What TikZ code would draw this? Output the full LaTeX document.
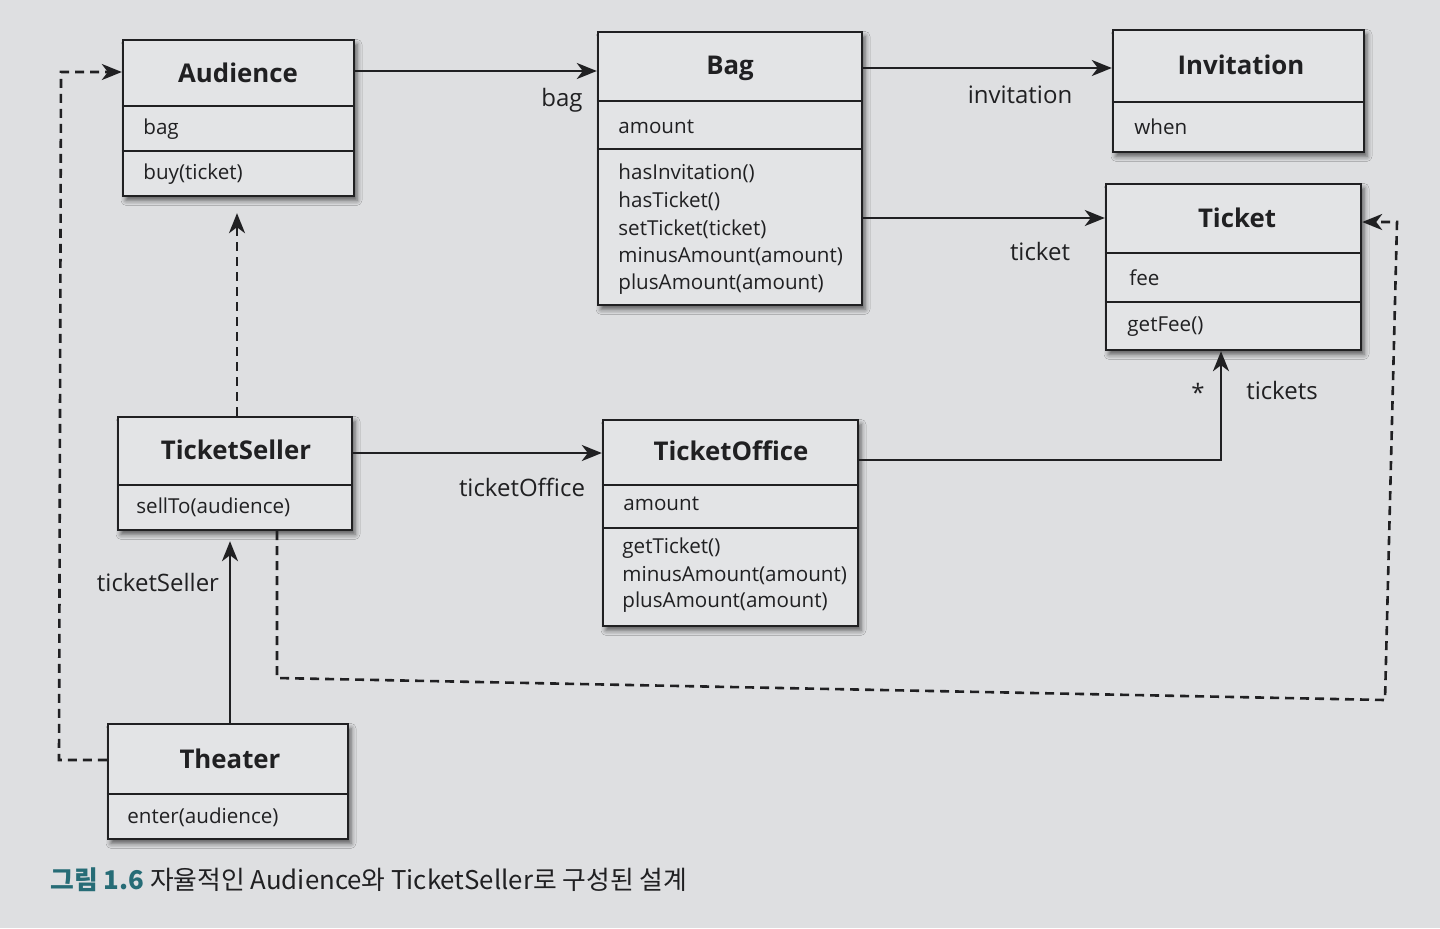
\documentclass[tikz,border=0pt]{standalone}
\usepackage{fontspec}
\setmainfont{Open Sans}
\newfontfamily\krfont{Noto Sans CJK KR}
\usetikzlibrary{arrows.meta, fit, shadows.blur}
\definecolor{bg}{RGB}{222,223,225}
\definecolor{boxfill}{RGB}{227,228,230}
\definecolor{ink}{RGB}{32,32,34}
\definecolor{capteal}{RGB}{38,108,118}
\tikzset{
  cls/.style={draw=ink, line width=1.2pt, fill=boxfill, inner sep=0pt,
    blur shadow={shadow xshift=1.5pt, shadow yshift=-2.2pt, shadow blur radius=2.5pt, shadow opacity=60}},
  sepline/.style={draw=ink, line width=1.2pt},
  hd/.style={font=\fontsize{12.9}{16}\selectfont\bfseries, text=ink, inner sep=0pt},
  txt/.style={font=\fontsize{10.3}{14}\selectfont, text=ink, anchor=west, inner sep=0pt},
  lbl/.style={font=\fontsize{12}{14}\selectfont, text=ink, inner sep=0pt},
  arr/.style={draw=ink, line width=1.3pt, -{Stealth[length=10pt,width=8pt,inset=3pt]}},
  darr/.style={arr, dash pattern=on 4.5pt off 3pt},
}
\begin{document}
\begin{tikzpicture}[x=0.5pt, y=-0.5pt]
\fill[bg] (0,0) rectangle (1440,928);
\useasboundingbox (0,0) rectangle (1440,928);

% ---------- Audience
\node[cls, fit={(123,40) (354,196)}] (aud) {};
\draw[sepline] (aud.west |- 0,106) -- (aud.east |- 0,106);
\draw[sepline] (aud.west |- 0,151) -- (aud.east |- 0,151);
\node[hd] (audh) at (238,73) {Audience};
\node[txt] (auda) at (143,129) {bag};
\node[txt] (audm) at (143,174) {buy(ticket)};

% ---------- Bag
\node[cls, fit={(598,32) (862,305)}] (bag) {};
\draw[sepline] (bag.west |- 0,101) -- (bag.east |- 0,101);
\draw[sepline] (bag.west |- 0,149) -- (bag.east |- 0,149);
\node[hd] (bagh) at (730,68) {Bag};
\node[txt] (baga) at (618,127) {amount};
\node[txt] (bagm1) at (618,173) {hasInvitation()};
\node[txt] (bagm2) at (618,201) {hasTicket()};
\node[txt] (bagm3) at (618,229) {setTicket(ticket)};
\node[txt] (bagm4) at (618,257) {minusAmount(amount)};
\node[txt] (bagm5) at (618,284) {plusAmount(amount)};

% ---------- Invitation
\node[cls, fit={(1113,30) (1364,152)}] (inv) {};
\draw[sepline] (inv.west |- 0,102) -- (inv.east |- 0,102);
\node[hd] (invh) at (1241,65) {Invitation};
\node[txt] (inva) at (1134,127) {when};

% ---------- Ticket
\node[cls, fit={(1106,184) (1361,350)}] (tkt) {};
\draw[sepline] (tkt.west |- 0,253) -- (tkt.east |- 0,253);
\draw[sepline] (tkt.west |- 0,302) -- (tkt.east |- 0,302);
\node[hd] (tkth) at (1237,218) {Ticket};
\node[txt] (tkta) at (1129,278) {fee};
\node[txt] (tktm) at (1127,327) {getFee()};

% ---------- TicketSeller
\node[cls, fit={(118,417) (352,530)}] (ts) {};
\draw[sepline] (ts.west |- 0,485) -- (ts.east |- 0,485);
\node[hd] (tsh) at (236,450) {TicketSeller};
\node[txt] (tsm) at (136,507) {sellTo(audience)};

% ---------- TicketOffice
\node[cls, fit={(603,420) (858,626)}] (to) {};
\draw[sepline] (to.west |- 0,485) -- (to.east |- 0,485);
\draw[sepline] (to.west |- 0,528) -- (to.east |- 0,528);
\node[hd] (toh) at (731,451) {TicketOffice};
\node[txt] (toa) at (623,504) {amount};
\node[txt] (tom1) at (622,548) {getTicket()};
\node[txt] (tom2) at (622,576) {minusAmount(amount)};
\node[txt] (tom3) at (622,602) {plusAmount(amount)};

% ---------- Theater
\node[cls, fit={(108,724) (348,839)}] (th) {};
\draw[sepline] (th.west |- 0,794) -- (th.east |- 0,794);
\node[hd] (thh) at (230,759) {Theater};
\node[txt] (thm) at (127,817) {enter(audience)};

% ---------- connectors
\draw[arr] (aud.east |- 0,71) -- (bag.west |- 0,71);
\node[lbl] (lbag) at (562,100) {bag};

\draw[arr] (bag.east |- 0,68) -- (inv.west |- 0,68);
\node[lbl] (linv) at (1020,95) {invitation};

\draw[arr] (bag.east |- 0,218) -- (tkt.west |- 0,218);
\node[lbl] (ltkt) at (1040,251) {ticket};

\draw[arr] (ts.east |- 0,453) -- (to.west |- 0,453);
\node[lbl] (lto) at (522,487) {ticketOffice};

\draw[arr] (to.east |- 0,460) -| (tkt.south -| 1221,0);
\node[lbl] (lstar) at (1198,392) {*};
\node[lbl] (ltks) at (1282,390) {tickets};

\draw[darr, shorten >=8pt] (ts.north -| 237,0) -- (aud.south -| 237,0);

\draw[arr, shorten >=5pt] (th.north -| 230,0) -- (ts.south -| 230,0);
\node[lbl] (ltsr) at (158,582) {ticketSeller};

\draw[darr] (th.west |- 0,760) -- (59,760) -- (61,72) -- (aud.west |- 0,72);

\draw[darr] (ts.south -| 277,0) -- (277,678) -- (1385,700) -- (1397,222) -- (tkt.east |- 0,222);

% ---------- caption
\node[anchor=west, inner sep=0pt, text=ink, font=\krfont\fontsize{12.9}{15}\selectfont] (cap) at (50,880)
  {{\color{capteal}\bfseries 그림 1.6}\ 자율적인 Audience와 TicketSeller로 구성된 설계};
\end{tikzpicture}
\end{document}
